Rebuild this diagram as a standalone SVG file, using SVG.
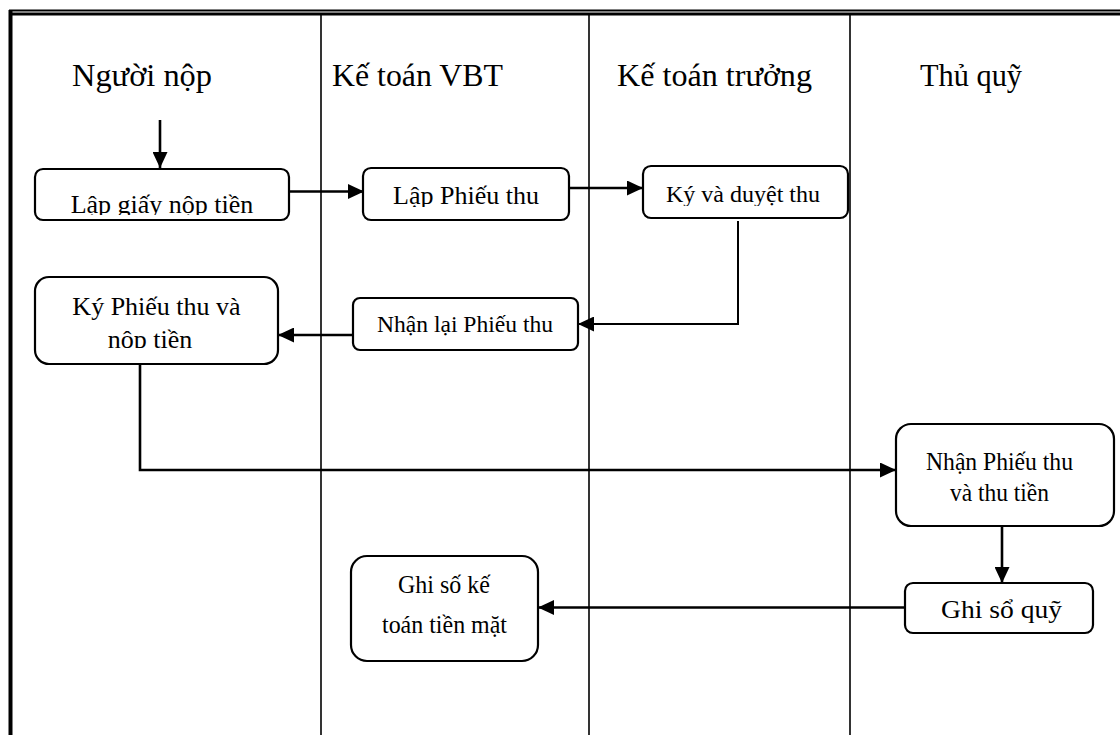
<svg xmlns="http://www.w3.org/2000/svg" width="1120" height="735" viewBox="0 0 1120 735">
<style>
text{font-family:"Liberation Serif","Times New Roman",serif;fill:#000}
.hdr{font-size:31px}
.t26{font-size:26px;text-anchor:middle}
.t24{font-size:24px;text-anchor:middle}
.t23{font-size:23px;text-anchor:middle}
.box{fill:#fff;stroke:#000;stroke-width:2.2}
.frame{stroke:#000;fill:none}
.con{stroke:#000;stroke-width:2.6;fill:none}
.arr{marker-end:url(#ah)}
</style>
<defs>
<marker id="ah" markerUnits="userSpaceOnUse" markerWidth="16" markerHeight="15" refX="16" refY="7.5" orient="auto">
<path d="M0,0 L16,7.5 L0,15 Z" fill="#000"/>
</marker>
<clipPath id="c1"><rect x="36" y="170" width="252" height="45"/></clipPath>
<clipPath id="c2"><rect x="364" y="169" width="204" height="38"/></clipPath>
<clipPath id="c3"><rect x="644" y="167" width="203" height="39"/></clipPath>
<clipPath id="c4"><rect x="36" y="278" width="241" height="70"/></clipPath>
</defs>
<g id="frame">
<line class="frame" x1="9" y1="10.5" x2="1120" y2="10.5" stroke-width="1.8"/>
<line class="frame" x1="9" y1="14" x2="1120" y2="14" stroke-width="3"/>
<line class="frame" x1="10.5" y1="10" x2="10.5" y2="735" stroke-width="4"/>
<line class="frame" x1="321" y1="14" x2="321" y2="735" stroke-width="1.6"/>
<line class="frame" x1="589" y1="14" x2="589" y2="735" stroke-width="1.6"/>
<line class="frame" x1="850" y1="14" x2="850" y2="735" stroke-width="1.6"/>
</g>
<g id="headers">
<text class="hdr" x="72" y="86" textLength="140" lengthAdjust="spacingAndGlyphs">Người nộp</text>
<text class="hdr" x="332" y="86" textLength="171" lengthAdjust="spacingAndGlyphs">Kế toán VBT</text>
<text class="hdr" x="617" y="86" textLength="195" lengthAdjust="spacingAndGlyphs">Kế toán trưởng</text>
<text class="hdr" x="920" y="86" textLength="102" lengthAdjust="spacingAndGlyphs">Thủ quỹ</text>
</g>
<g id="connectors">
<line class="con arr" x1="160" y1="120" x2="160" y2="168"/>
<line class="con arr" x1="289" y1="191.5" x2="364" y2="191.5"/>
<line class="con arr" x1="569" y1="188" x2="643" y2="188"/>
<polyline class="con arr" points="738,221 738,324 578,324" style="stroke-width:2"/>
<line class="con arr" x1="353" y1="335" x2="278" y2="335"/>
<polyline class="con arr" points="140,364 140,470 896,470"/>
<line class="con arr" x1="1002" y1="526" x2="1002" y2="583"/>
<line class="con arr" x1="905" y1="607.5" x2="538" y2="607.5"/>
</g>
<g id="n1">
<rect class="box" x="35" y="169" width="254" height="51" rx="8"/>
<text class="t26" x="162" y="213" clip-path="url(#c1)">Lập giấy nộp tiền</text>
</g>
<g id="n2">
<rect class="box" x="363" y="168" width="206" height="52" rx="8"/>
<text class="t26" x="466" y="204" clip-path="url(#c2)">Lập Phiếu thu</text>
</g>
<g id="n3">
<rect class="box" x="643" y="166" width="205" height="52" rx="8"/>
<text class="t24" x="743" y="202" clip-path="url(#c3)">Ký và duyệt thu</text>
</g>
<g id="n4">
<rect class="box" x="35" y="277" width="243" height="87" rx="14"/>
<text class="t26" x="156.5" y="315" clip-path="url(#c4)">Ký Phiếu thu và</text>
<text class="t26" x="150" y="348" clip-path="url(#c4)">nộp tiền</text>
</g>
<g id="n5">
<rect class="box" x="353" y="298" width="225" height="52" rx="7"/>
<text class="t23" x="465" y="332" textLength="176" lengthAdjust="spacingAndGlyphs">Nhận lại Phiếu thu</text>
</g>
<g id="n6">
<rect class="box" x="896" y="424" width="218" height="102" rx="15"/>
<text class="t26" x="999.5" y="470" textLength="147" lengthAdjust="spacingAndGlyphs">Nhận Phiếu thu</text>
<text class="t26" x="999.5" y="501" textLength="99" lengthAdjust="spacingAndGlyphs">và thu tiền</text>
</g>
<g id="n7">
<rect class="box" x="905" y="583" width="188" height="50" rx="8"/>
<text class="t26" x="1001.5" y="618" textLength="121" lengthAdjust="spacingAndGlyphs">Ghi sổ quỹ</text>
</g>
<g id="n8">
<rect class="box" x="351" y="556" width="187" height="105" rx="16"/>
<text class="t26" x="444" y="593" textLength="92" lengthAdjust="spacingAndGlyphs">Ghi số kế</text>
<text class="t26" x="444.5" y="633" textLength="125" lengthAdjust="spacingAndGlyphs">toán tiền mặt</text>
</g>
</svg>
